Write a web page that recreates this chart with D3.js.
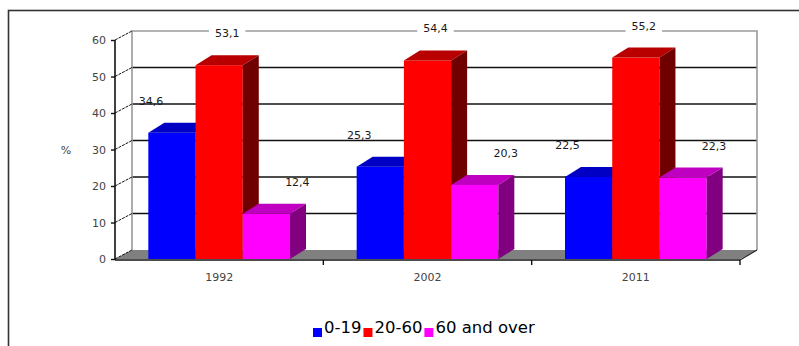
<!DOCTYPE html>
<html>
<head>
<meta charset="utf-8">
<script src="https://cdn.jsdelivr.net/npm/d3@7"></script>
<style>
  html, body { margin: 0; padding: 0; background: #fff; }
  svg { display: block; }
</style>
</head>
<body>
<svg id="chart" width="799" height="346"></svg>
<script>
// ---- data ----
const categories = ["1992", "2002", "2011"];
const seriesNames = ["0-19", "20-60", "60 and over"];
const values0to19 = [34.6, 25.3, 22.5];
const values20to60 = [53.1, 54.4, 55.2];
const values60plus = [12.4, 20.3, 22.3];
const yTickValues = [0, 10, 20, 30, 40, 50, 60];
const yAxisTitle = "%";

// ---- styling / layout ----
const seriesValues = [values0to19, values20to60, values60plus];
const frontColors = ["#0000ff", "#ff0000", "#ff00ff"];
const topColors = ["#0000c4", "#b80000", "#c000c0"];
const sideColors = ["#00008a", "#700000", "#800080"];
const FONT = "'DejaVu Sans', Verdana, sans-serif";

const svg = d3.select("#chart");
const plot = { left: 115, right: 740, top: 40, bottom: 259 };
const wall = { dx: 17, dy: -9 };     // depth of the floor / back wall
const bar = { dx: 16, dy: -10 };     // depth of each bar

const y = d3.scaleLinear().domain([0, 60]).range([plot.bottom, plot.top]);
const x0 = d3.scaleBand().domain(categories).range([plot.left, plot.right]);
const groupW = x0.bandwidth() * 0.68;
const x1 = d3.scaleBand().domain(d3.range(seriesNames.length)).range([0, groupW]);

// outer border
svg.append("rect").attr("x", 8.5).attr("y", 10.5).attr("width", 820).attr("height", 360)
  .attr("fill", "none").attr("stroke", "#333").attr("stroke-width", 1.6);

// floor
const floorPts = [
  [plot.left, plot.bottom], [plot.right, plot.bottom],
  [plot.right + wall.dx, plot.bottom + wall.dy], [plot.left + wall.dx, plot.bottom + wall.dy]
];
svg.append("polygon").attr("points", floorPts.map(p => p.join(",")).join(" "))
  .attr("fill", "#808080");

// back wall gridlines
const wallL = plot.left + wall.dx, wallR = plot.right + wall.dx;
yTickValues.filter(t => t > 0 && t < 60).forEach(t => {
  svg.append("line").attr("x1", wallL).attr("x2", wallR)
    .attr("y1", y(t) + wall.dy).attr("y2", y(t) + wall.dy)
    .attr("stroke", "#111").attr("stroke-width", 1.4);
});
// wall outline (gray)
svg.append("path")
  .attr("d", `M${wallL},${y(0) + wall.dy} V${y(60) + wall.dy} H${wallR} V${y(0) + wall.dy}`)
  .attr("fill", "none").attr("stroke", "#9a9a9a").attr("stroke-width", 1.6);

// diagonal connectors from axis ticks to wall
yTickValues.forEach(t => {
  svg.append("line").attr("x1", plot.left).attr("y1", y(t))
    .attr("x2", wallL).attr("y2", y(t) + wall.dy)
    .attr("stroke", "#111").attr("stroke-width", 1).attr("stroke-dasharray", "3,1");
});

// y axis
const yAxis = d3.axisLeft(y).tickValues(yTickValues).tickSize(4).tickPadding(5);
const gy = svg.append("g").attr("transform", `translate(${plot.left},0)`).call(yAxis);
gy.select(".domain").attr("stroke", "#111").attr("stroke-width", 1.6)
  .attr("d", `M0,${y(0) + 1}V${y(60)}`);
gy.selectAll(".tick line").attr("stroke", "#111").attr("stroke-width", 1.4);
gy.selectAll(".tick text").attr("font-family", FONT).attr("font-size", 11)
  .attr("fill", "#444");

svg.append("text").attr("x", 66).attr("y", y(30) + 4).attr("text-anchor", "middle")
  .attr("font-family", FONT).attr("font-size", 11).attr("fill", "#444").text(yAxisTitle);

// x axis
const xAxisY = plot.bottom + 1;
svg.append("line").attr("x1", plot.left).attr("x2", plot.right)
  .attr("y1", xAxisY).attr("y2", xAxisY).attr("stroke", "#111").attr("stroke-width", 1.6);
categories.forEach(c => {
  const bx = x0(c) + x0.bandwidth();
  svg.append("line").attr("x1", bx).attr("x2", bx).attr("y1", xAxisY).attr("y2", xAxisY + 5)
    .attr("stroke", "#111").attr("stroke-width", 1.4);
  svg.append("text").attr("x", x0(c) + x0.bandwidth() / 2).attr("y", 281)
    .attr("text-anchor", "middle").attr("font-family", FONT).attr("font-size", 11)
    .attr("fill", "#444").text(c);
});
svg.append("line").attr("x1", plot.right).attr("y1", xAxisY)
  .attr("x2", plot.right + wall.dx).attr("y2", plot.bottom + wall.dy)
  .attr("stroke", "#222").attr("stroke-width", 1.2);

// bars
const barsG = svg.append("g");
categories.forEach((c, ci) => {
  seriesValues.forEach((vals, si) => {
    const v = vals[ci];
    const bx = x0(c) + (x0.bandwidth() - groupW) / 2 + x1(si);
    const bw = x1.bandwidth();
    const yt = y(v), yb = y(0);
    // front
    barsG.append("rect").attr("x", bx).attr("y", yt).attr("width", bw).attr("height", yb - yt)
      .attr("fill", frontColors[si]);
    // top
    barsG.append("polygon").attr("points", [
      [bx, yt], [bx + bw, yt], [bx + bw + bar.dx, yt + bar.dy], [bx + bar.dx, yt + bar.dy]
    ].map(p => p.join(",")).join(" ")).attr("fill", topColors[si]);
    // side
    barsG.append("polygon").attr("points", [
      [bx + bw, yt], [bx + bw + bar.dx, yt + bar.dy], [bx + bw + bar.dx, yb + bar.dy], [bx + bw, yb]
    ].map(p => p.join(",")).join(" ")).attr("fill", sideColors[si]);
  });
});

// data labels
const fmt = v => d3.format(".1f")(v).replace(".", ",");
const labelSpread = 23;
const wallTopY = y(60) + wall.dy;
const labelsG = svg.append("g");
categories.forEach((c, ci) => {
  seriesValues.forEach((vals, si) => {
    const v = vals[ci];
    const bx = x0(c) + (x0.bandwidth() - groupW) / 2 + x1(si);
    const cx = bx + x1.bandwidth() / 2 + bar.dx / 2 + (si - 1) * labelSpread - (si === 0 ? 6 : 0);
    const cy = y(v) + bar.dy - 22;
    const g = labelsG.append("g");
    const t = g.append("text").attr("x", cx).attr("y", cy + 4).attr("text-anchor", "middle")
      .attr("font-family", FONT).attr("font-size", 11).attr("fill", "#1a1a1a").text(fmt(v));
    if (Math.abs(cy - wallTopY) < 13) {
      const w = t.node().getComputedTextLength() + 12;
      g.insert("rect", "text").attr("x", cx - w / 2).attr("y", cy - 12)
        .attr("width", w).attr("height", 24).attr("fill", "#fff");
    }
  });
});

// legend
const legend = svg.append("g");
let lx = 313;
const baseY = 333;
seriesNames.forEach((name, si) => {
  legend.append("rect").attr("x", lx).attr("y", baseY - 5).attr("width", 9).attr("height", 9)
    .attr("fill", frontColors[si]);
  const t = legend.append("text").attr("x", lx + 11).attr("y", baseY)
    .attr("font-family", FONT).attr("font-size", 16.5).attr("fill", "#000").text(name);
  lx += 11 + t.node().getComputedTextLength() + 2;
});
</script>
</body>
</html>
